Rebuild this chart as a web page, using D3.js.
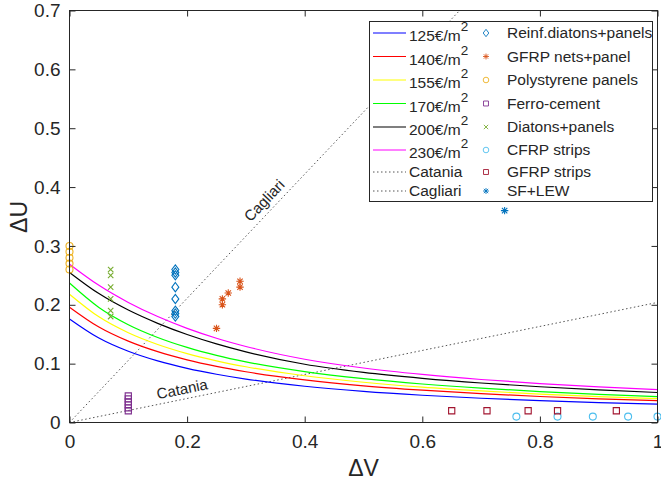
<!DOCTYPE html>
<html><head><meta charset="utf-8">
<script src="https://cdn.jsdelivr.net/npm/d3@7"></script>
<style>
html,body{margin:0;padding:0;background:#fff;}
text{font-family:"Liberation Sans",Arial,Helvetica,sans-serif;fill:#262626;}
</style></head>
<body>
<svg id="chart" width="661" height="486"></svg>
<script>
// ---- data ----
const curveDV = [0, 0.05, 0.1, 0.15, 0.2, 0.25, 0.3, 0.4, 0.5, 0.6, 0.7, 0.8, 0.9, 1.0];
const curveNames = ["125€/m", "140€/m", "155€/m", "170€/m", "200€/m", "230€/m"];
const curveColors = ["#0000FF", "#FF0000", "#FFFF00", "#00FF00", "#000000", "#FF00FF"];
const cost125 = [0.176, 0.1435, 0.1210, 0.1046, 0.0920, 0.0820, 0.0738, 0.0616, 0.0528, 0.0463, 0.0412, 0.0372, 0.0338, 0.0311];
const cost140 = [0.196, 0.1622, 0.1382, 0.1203, 0.1064, 0.0953, 0.0862, 0.0724, 0.0623, 0.0549, 0.0490, 0.0442, 0.0403, 0.0371];
const cost155 = [0.218, 0.1795, 0.1525, 0.1326, 0.1171, 0.1048, 0.0947, 0.0794, 0.0684, 0.0600, 0.0536, 0.0483, 0.0441, 0.0405];
const cost170 = [0.237, 0.1955, 0.1662, 0.1445, 0.1276, 0.1141, 0.1031, 0.0865, 0.0745, 0.0654, 0.0583, 0.0526, 0.0479, 0.0440];
const cost200 = [0.255, 0.2190, 0.1910, 0.1685, 0.1495, 0.1335, 0.1200, 0.0990, 0.0852, 0.0751, 0.0671, 0.0607, 0.0554, 0.0510];
const cost230 = [0.269, 0.2330, 0.2040, 0.1800, 0.1600, 0.1432, 0.1292, 0.1075, 0.0926, 0.0817, 0.0731, 0.0662, 0.0605, 0.0557];
const curveValues = [cost125, cost140, cost155, cost170, cost200, cost230];

// reference lines (ΔU = slope * ΔV)
const refNames = ["Catania", "Cagliari"];
const refSlopes = [0.204, 1.055];

// scatter series
const reinfDV = [0.18, 0.18, 0.18, 0.18, 0.18, 0.18, 0.18, 0.18];
const reinfDU = [0.26, 0.255, 0.25, 0.23, 0.21, 0.19, 0.185, 0.18];
const gfrpNetsDV = [0.25, 0.26, 0.26, 0.27, 0.29, 0.29];
const gfrpNetsDU = [0.16, 0.20, 0.21, 0.22, 0.23, 0.24];
const polyDV = [0, 0, 0, 0, 0];
const polyDU = [0.26, 0.27, 0.28, 0.29, 0.30];
const ferroDV = [0.1, 0.1, 0.1, 0.1, 0.1, 0.1];
const ferroDU = [0.045, 0.04, 0.035, 0.03, 0.025, 0.02];
const diatDV = [0.07, 0.07, 0.07, 0.07, 0.07, 0.07];
const diatDU = [0.26, 0.25, 0.23, 0.21, 0.19, 0.18];
const cfrpDV = [0.76, 0.83, 0.89, 0.95, 1.0];
const cfrpDU = [0.01, 0.01, 0.01, 0.01, 0.01];
const gfrpStripDV = [0.65, 0.71, 0.78, 0.83, 0.93];
const gfrpStripDU = [0.02, 0.02, 0.02, 0.02, 0.02];
const sfDV = [0.74];
const sfDU = [0.36];

const seriesNames = ["Reinf.diatons+panels", "GFRP nets+panel", "Polystyrene panels", "Ferro-cement", "Diatons+panels", "CFRP strips", "GFRP strips", "SF+LEW"];
const seriesColors = ["#0072BD", "#D95319", "#EDB120", "#7E2F8E", "#77AC30", "#4DBEEE", "#A2142F", "#0072BD"];
const seriesMarkers = ["diamond", "asterisk", "circle", "square", "x", "circle", "square", "asterisk"];
const seriesDV = [reinfDV, gfrpNetsDV, polyDV, ferroDV, diatDV, cfrpDV, gfrpStripDV, sfDV];
const seriesDU = [reinfDU, gfrpNetsDU, polyDU, ferroDU, diatDU, cfrpDU, gfrpStripDU, sfDU];

const xTicks = [0, 0.2, 0.4, 0.6, 0.8, 1];
const yTicks = [0, 0.1, 0.2, 0.3, 0.4, 0.5, 0.6, 0.7];

// ---- layout ----
const L = 69.5, R = 657.5, T = 10.5, B = 422.5;
const svg = d3.select("#chart");
const x = d3.scaleLinear().domain([0, 1]).range([L, R]);
const y = d3.scaleLinear().domain([0, 0.7]).range([B, T]);
const axisColor = "#262626";

svg.append("defs").append("clipPath").attr("id", "clip")
  .append("rect").attr("x", L).attr("y", T).attr("width", R - L).attr("height", B - T);

const plot = svg.append("g").attr("clip-path", "url(#clip)");

// reference dotted lines
refSlopes.forEach((s, i) => {
  const xe = Math.min(1, 0.7 / s);
  plot.append("line")
    .attr("x1", x(0)).attr("y1", y(0)).attr("x2", x(xe)).attr("y2", y(s * xe))
    .attr("stroke", "#555").attr("stroke-width", 1).attr("stroke-dasharray", "1.5,2.5");
});

// cost curves
const lineGen = d3.line().x(d => x(d[0])).y(d => y(d[1])).curve(d3.curveMonotoneX);
curveValues.forEach((vals, i) => {
  plot.append("path")
    .attr("d", lineGen(curveDV.map((v, k) => [v, vals[k]])))
    .attr("fill", "none").attr("stroke", curveColors[i]).attr("stroke-width", 1.2);
});

// marker paths
function markerPath(type) {
  switch (type) {
    case "diamond": return "M0,-4.6L3.5,0L0,4.6L-3.5,0Z";
    case "circle": return "M3.5,0A3.5,3.5 0 1,1 -3.5,0A3.5,3.5 0 1,1 3.5,0Z";
    case "square": return "M-3.1,-3.1H3.1V3.1H-3.1Z";
    case "x": return "M-2.7,-2.7L2.7,2.7M-2.7,2.7L2.7,-2.7";
    case "asterisk": return "M-3.7,0H3.7M0,-3.7V3.7M-2.7,-2.7L2.7,2.7M-2.7,2.7L2.7,-2.7";
  }
}

// scatter
const pts = svg.append("g");
seriesDV.forEach((dvs, i) => {
  pts.selectAll(null).data(dvs.map((v, k) => [v, seriesDU[i][k]])).enter()
    .append("path")
    .attr("d", markerPath(seriesMarkers[i]))
    .attr("transform", d => `translate(${x(d[0])},${y(d[1])})`)
    .attr("fill", "none").attr("stroke", seriesColors[i]).attr("stroke-width", 1.1);
});

// axes box
const axG = svg.append("g");
axG.append("rect").attr("x", L).attr("y", T).attr("width", R - L).attr("height", B - T)
  .attr("fill", "none").attr("stroke", axisColor).attr("stroke-width", 1);

const xAxis = d3.axisBottom(x).tickValues(xTicks).tickSize(-6).tickPadding(12).tickFormat(d3.format("~g"));
const xAxisTop = d3.axisTop(x).tickValues(xTicks).tickSize(-6).tickFormat("");
const yAxis = d3.axisLeft(y).tickValues(yTicks).tickSize(-6).tickPadding(9).tickFormat(d3.format("~g"));
const yAxisRight = d3.axisRight(y).tickValues(yTicks).tickSize(-6).tickFormat("");

function styleAxis(g) {
  g.select(".domain").remove();
  g.selectAll(".tick line").attr("stroke", axisColor);
  g.selectAll(".tick text").attr("fill", axisColor).style("font-size", "19px")
    .style("font-family", '"Liberation Sans",Arial,sans-serif');
}
svg.append("g").attr("transform", `translate(0,${B})`).call(xAxis).call(styleAxis);
svg.append("g").attr("transform", `translate(0,${T})`).call(xAxisTop).call(styleAxis);
svg.append("g").attr("transform", `translate(${L},0)`).call(yAxis).call(styleAxis);
svg.append("g").attr("transform", `translate(${R},0)`).call(yAxisRight).call(styleAxis);

// axis labels
svg.append("text").attr("x", (L + R) / 2).attr("y", 476).attr("text-anchor", "middle")
  .style("font-size", "23px").text("ΔV");
svg.append("text").attr("transform", "translate(27,217) rotate(-90)").attr("text-anchor", "middle")
  .style("font-size", "23px").text("ΔU");

// reference line labels
function refLabel(name, slope, dv, offset) {
  const ang = Math.atan2(y(slope * dv) - y(0), x(dv) - x(0)) * 180 / Math.PI;
  const px = x(dv), py = y(slope * dv);
  svg.append("text")
    .attr("transform", `translate(${px},${py}) rotate(${ang}) translate(0,${-offset})`)
    .attr("text-anchor", "middle").style("font-size", "15px").text(name);
}
refLabel(refNames[0], refSlopes[0], 0.195, 5);
refLabel(refNames[1], refSlopes[1], 0.345, 6);

// legend
const lg = svg.append("g");
lg.append("rect").attr("x", 369.5).attr("y", 21.5).attr("width", 283).attr("height", 180)
  .attr("fill", "#fff").attr("stroke", axisColor).attr("stroke-width", 1);
const rowY = [33, 56.5, 80, 103.5, 127, 150, 172, 191];
const col1 = curveNames.map((n, i) => ({ name: n, sup: true, color: curveColors[i], dash: null }))
  .concat(refNames.map(n => ({ name: n, sup: false, color: "#555", dash: "1.5,2.5" })));
col1.forEach((d, i) => {
  const yy = rowY[i];
  lg.append("line").attr("x1", 373).attr("x2", 406).attr("y1", yy).attr("y2", yy)
    .attr("stroke", d.color).attr("stroke-width", d.dash ? 1 : 1.2)
    .attr("stroke-dasharray", d.dash);
  const t = lg.append("text").attr("x", 409).attr("y", yy + (d.sup ? 8 : 5)).style("font-size", "15.5px");
  t.append("tspan").text(d.name);
  if (d.sup) t.append("tspan").attr("dy", -10).style("font-size", "13.5px").text("2");
});
seriesNames.forEach((n, i) => {
  const yy = rowY[i];
  lg.append("path").attr("d", markerPath(seriesMarkers[i]))
    .attr("transform", `translate(486,${yy}) scale(0.8)`)
    .attr("fill", "none").attr("stroke", seriesColors[i]).attr("stroke-width", 1.1);
  lg.append("text").attr("x", 507).attr("y", yy + 5).style("font-size", "15.5px").text(n);
});
</script>
</body></html>
